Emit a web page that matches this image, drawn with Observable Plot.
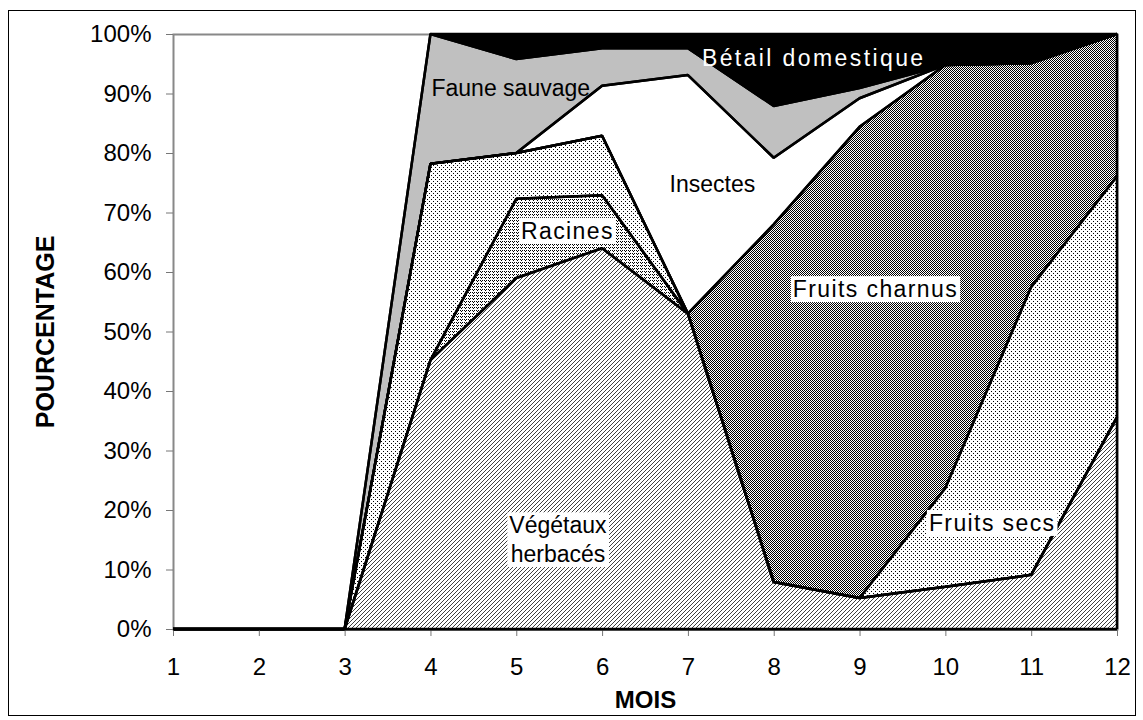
<!DOCTYPE html>
<html><head><meta charset="utf-8">
<script src="https://cdn.jsdelivr.net/npm/d3@7"></script>
<script src="https://cdn.jsdelivr.net/npm/@observablehq/plot@0.6"></script>
<style>
body{margin:0;background:#fff;}
#wrap{position:relative;width:1143px;height:720px;overflow:hidden;}
#border{position:absolute;left:8px;top:10px;width:1128px;height:706px;border:1.5px solid #000;pointer-events:none;box-sizing:border-box;}
</style></head><body>
<div id="wrap"><div id="chart"></div><div id="border"></div></div>
<script>
// ---- data ----
const months = [1,2,3,4,5,6,7,8,9,10,11,12];
const series = ["Végétaux herbacés","Racines","Fruits secs","Fruits charnus","Insectes","Faune sauvage","Bétail domestique"];
const vegetaux      = [0,0,0,45.2,59,64,53,7.9,5.2,7.1,9.1,35.6];
const racines       = [0,0,0,0,13.3,8.9,0,0,0,0,0,0];
const fruitsSecs    = [0,0,0,33,7.7,10,0,0,0,16.6,48.4,40.5];
const fruitsCharnus = [0,0,0,0,0,0,0,60.1,79.2,71.1,37.6,23.9];
const insectes      = [0,0,0,0,0,8.4,40.1,11.2,4.8,0,0,0];
const fauneSauvage  = [0,0,0,21.8,15.8,6.3,4.5,8.7,1.7,0,0,0];
const betail        = [0,0,0,0,4.2,2.4,2.4,12.1,9.1,5.2,4.9,0];
const yTicks = [0,10,20,30,40,50,60,70,80,90,100];

// annotation labels (data units: month, percent)
const boxedLabels = ["Racines","Fruits charnus","Fruits secs"];
const boxedMonth  = [5.59, 9.18, 10.54];
const boxedPct    = [66.9, 57.1, 17.8];
const vegLabel    = ["Végétaux\nherbacés"];
const vegMonth    = [5.48];
const vegPct      = [15.3];
const plainLabels = ["Faune sauvage","Insectes"];
const plainMonth  = [4.93, 7.28];
const plainPct    = [90.9, 74.8];
const darkLabels  = ["Bétail domestique"];
const darkMonth   = [8.46];
const darkPct     = [96.0];

const valuesBySeries = [vegetaux, racines, fruitsSecs, fruitsCharnus, insectes, fauneSauvage, betail];
const patternIds = ["url(#p-veg)","url(#p-rac)","url(#p-sec)","url(#p-cha)","white","#c0c0c0","black"];

const data = [];
series.forEach((s, i) => months.forEach((m, j) => data.push({month: m, series: s, value: valuesBySeries[i][j], fill: patternIds[i]})));

const mk = (texts, ms, ps) => texts.map((t, i) => ({text: t, month: ms[i], pct: ps[i]}));

const font = "'Liberation Sans', Arial, sans-serif";
const plot = Plot.plot({
  width: 1143, height: 720,
  marginLeft: 173, marginRight: 26, marginTop: 34, marginBottom: 91,
  style: {fontFamily: font, background: "transparent", overflow: "visible"},
  x: {domain: [1, 12]},
  y: {domain: [0, 100]},
  color: {type: "identity"},
  marks: [
    Plot.frame({stroke: "#888", strokeWidth: 2}),
    Plot.areaY(data, {x: "month", y: "value", z: "series", fill: "fill", order: null}),
    Plot.areaY(data, {x: "month", y: "value", z: "series", fill: "none", stroke: "black", strokeWidth: 2.5, strokeLinejoin: "miter", order: null}),
    Plot.axisY({ticks: yTicks, tickFormat: d => d + "%", tickSize: 7, tickPadding: 15, stroke: "#777", fontSize: 24, label: null}),
    Plot.axisX({ticks: months, tickFormat: d => String(d), tickSize: 7, tickPadding: 21, stroke: "#777", fontSize: 24, label: null}),
    Plot.ruleY([0], {stroke: "black", strokeWidth: 2}),
    Plot.text(["MOIS"], {frameAnchor: "bottom", lineAnchor: "middle", textAnchor: "middle", dy: 71, fontSize: 24, fontWeight: "bold"}),
    Plot.text(["POURCENTAGE"], {frameAnchor: "left", textAnchor: "middle", lineAnchor: "middle", dx: -128, rotate: -90, fontSize: 25, fontWeight: "bold"}),
    Plot.text(mk(plainLabels, plainMonth, plainPct), {x: "month", y: "pct", text: "text", fontSize: 23, fill: "black"}),
    Plot.text(mk(darkLabels, darkMonth, darkPct), {x: "month", y: "pct", text: "text", fontSize: 23, fill: "white"}),
    Plot.text(mk(boxedLabels, boxedMonth, boxedPct), {x: "month", y: "pct", text: "text", fontSize: 23, fill: "black"}),
    Plot.text(mk(vegLabel, vegMonth, vegPct), {x: "month", y: "pct", text: "text", fontSize: 23, fill: "black", lineHeight: 1.25})
  ]
});
document.getElementById("chart").appendChild(plot);

// patterns
const svg = d3.select(plot);
const defs = svg.insert("defs", ":first-child");
function pat(id, w, h) {
  const p = defs.append("pattern").attr("id", id).attr("patternUnits", "userSpaceOnUse").attr("width", w).attr("height", h);
  p.append("rect").attr("width", w).attr("height", h).attr("fill", "white");
  return p;
}
// Végétaux herbacés: fine diagonal hatch
pat("p-veg", 4, 4).append("path").attr("d", "M-1,1L1,-1M0,4L4,0M3,5L5,3").attr("stroke", "black").attr("stroke-width", 0.75);
// Racines: small wavy marks
{ const p = pat("p-rac", 4, 3); [[0,1],[1,2],[2,1]].forEach(([x,y]) => p.append("rect").attr("x", x).attr("y", y).attr("width", 1).attr("height", 1).attr("fill", "black")); }
// Fruits secs: sparse dots
{ const p = pat("p-sec", 4, 4); [[1,1],[3,3]].forEach(([x,y]) => p.append("rect").attr("x", x).attr("y", y).attr("width", 1).attr("height", 1).attr("fill", "black")); }
// Fruits charnus: checkerboard
{ const p = pat("p-cha", 2, 2); [[0,0],[1,1]].forEach(([x,y]) => p.append("rect").attr("x", x).attr("y", y).attr("width", 1).attr("height", 1).attr("fill", "black")); }

// letter spacing of the wide-set labels, then white boxes behind boxed labels
const spaced = new Map([["Bétail domestique", "2.4px"], ["Racines", "1.4px"], ["Fruits charnus", "1.4px"], ["Fruits secs", "1.4px"]]);
const boxedSet = new Set(boxedLabels.concat(vegLabel).map(s => s.replace(/\n/g, "")));
svg.selectAll("text").each(function() {
  const t = this.textContent;
  if (spaced.has(t)) this.style.letterSpacing = spaced.get(t);
  if (!boxedSet.has(t)) return;
  const b = this.getBBox();
  const r = document.createElementNS("http://www.w3.org/2000/svg", "rect");
  r.setAttribute("x", b.x - 2); r.setAttribute("y", b.y);
  r.setAttribute("width", b.width + 4); r.setAttribute("height", b.height);
  r.setAttribute("fill", "white");
  r.setAttribute("stroke", "none");
  if (this.getAttribute("transform")) r.setAttribute("transform", this.getAttribute("transform"));
  this.parentNode.insertBefore(r, this);
});
</script>
</body></html>
